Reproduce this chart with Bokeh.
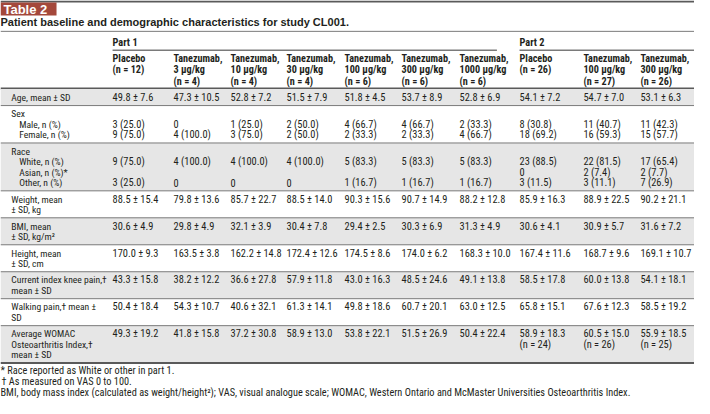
from bokeh.plotting import figure
from bokeh.models import Range1d
from bokeh.core.properties import value
from bokeh.embed import file_html
from bokeh.resources import INLINE

# ---------------- data ----------------
badge = "Table 2"
title = "Patient baseline and demographic characteristics for study CL001."
parts = ["Part 1", "Part 2"]
part_sizes = [7, 3]
headers = [
    ["Placebo", "(n = 12)"],
    ["Tanezumab,", "3 \u00b5g/kg", "(n = 4)"],
    ["Tanezumab,", "10 \u00b5g/kg", "(n = 4)"],
    ["Tanezumab,", "30 \u00b5g/kg", "(n = 4)"],
    ["Tanezumab,", "100 \u00b5g/kg", "(n = 6)"],
    ["Tanezumab,", "300 \u00b5g/kg", "(n = 6)"],
    ["Tanezumab,", "1000 \u00b5g/kg", "(n = 6)"],
    ["Placebo", "(n = 26)"],
    ["Tanezumab,", "100 \u00b5g/kg", "(n = 27)"],
    ["Tanezumab,", "300 \u00b5g/kg", "(n = 26)"],
]
age = ["49.8 \u00b1 7.6", "47.3 \u00b1 10.5", "52.8 \u00b1 7.2", "51.5 \u00b1 7.9", "51.8 \u00b1 4.5",
       "53.7 \u00b1 8.9", "52.8 \u00b1 6.9", "54.1 \u00b1 7.2", "54.7 \u00b1 7.0", "53.1 \u00b1 6.3"]
male = ["3 (25.0)", "0", "1 (25.0)", "2 (50.0)", "4 (66.7)", "4 (66.7)", "2 (33.3)",
        "8 (30.8)", "11 (40.7)", "11 (42.3)"]
female = ["9 (75.0)", "4 (100.0)", "3 (75.0)", "2 (50.0)", "2 (33.3)", "2 (33.3)", "4 (66.7)",
          "18 (69.2)", "16 (59.3)", "15 (57.7)"]
white = ["9 (75.0)", "4 (100.0)", "4 (100.0)", "4 (100.0)", "5 (83.3)", "5 (83.3)", "5 (83.3)",
         "23 (88.5)", "22 (81.5)", "17 (65.4)"]
asian = ["", "", "", "", "", "", "", "0", "2 (7.4)", "2 (7.7)"]
other = ["3 (25.0)", "0", "0", "0", "1 (16.7)", "1 (16.7)", "1 (16.7)",
         "3 (11.5)", "3 (11.1)", "7 (26.9)"]
weight = ["88.5 \u00b1 15.4", "79.8 \u00b1 13.6", "85.7 \u00b1 22.7", "88.5 \u00b1 14.0", "90.3 \u00b1 15.6",
          "90.7 \u00b1 14.9", "88.2 \u00b1 12.8", "85.9 \u00b1 16.3", "88.9 \u00b1 22.5", "90.2 \u00b1 21.1"]
bmi = ["30.6 \u00b1 4.9", "29.8 \u00b1 4.9", "32.1 \u00b1 3.9", "30.4 \u00b1 7.8", "29.4 \u00b1 2.5",
       "30.3 \u00b1 6.9", "31.3 \u00b1 4.9", "30.6 \u00b1 4.1", "30.9 \u00b1 5.7", "31.6 \u00b1 7.2"]
height = ["170.0 \u00b1 9.3", "163.5 \u00b1 3.8", "162.2 \u00b1 14.8", "172.4 \u00b1 12.6", "174.5 \u00b1 8.6",
          "174.0 \u00b1 6.2", "168.3 \u00b1 10.0", "167.4 \u00b1 11.6", "168.7 \u00b1 9.6", "169.1 \u00b1 10.7"]
knee = ["43.3 \u00b1 15.8", "38.2 \u00b1 12.2", "36.6 \u00b1 27.8", "57.9 \u00b1 11.8", "43.0 \u00b1 16.3",
        "48.5 \u00b1 24.6", "49.1 \u00b1 13.8", "58.5 \u00b1 17.8", "60.0 \u00b1 13.8", "54.1 \u00b1 18.1"]
walking = ["50.4 \u00b1 18.4", "54.3 \u00b1 10.7", "40.6 \u00b1 32.1", "61.3 \u00b1 14.1", "49.8 \u00b1 18.6",
           "60.7 \u00b1 20.1", "63.0 \u00b1 12.5", "65.8 \u00b1 15.1", "67.6 \u00b1 12.3", "58.5 \u00b1 19.2"]
womac = ["49.3 \u00b1 19.2", "41.8 \u00b1 15.8", "37.2 \u00b1 30.8", "58.9 \u00b1 13.0", "53.8 \u00b1 22.1",
         "51.5 \u00b1 26.9", "50.4 \u00b1 22.4", "58.9 \u00b1 18.3", "60.5 \u00b1 15.0", "55.9 \u00b1 18.5"]
womac_n = ["", "", "", "", "", "", "", "(n = 24)", "(n = 26)", "(n = 25)"]

rows = [
    (["Age, mean \u00b1 SD"], [age]),
    (["Sex", "Male, n (%)", "Female, n (%)"], [None, male, female]),
    (["Race", "White, n (%)", "Asian, n (%)*", "Other, n (%)"], [None, white, asian, other]),
    (["Weight, mean", "\u00b1 SD, kg"], [weight, None]),
    (["BMI, mean", "\u00b1 SD, kg/m\u00b2"], [bmi, None]),
    (["Height, mean", "\u00b1 SD, cm"], [height, None]),
    (["Current index knee pain,\u2020", "mean \u00b1 SD"], [knee, None]),
    (["Walking pain,\u2020 mean \u00b1", "SD"], [walking, None]),
    (["Average WOMAC", "Osteoarthritis Index,\u2020", "mean \u00b1 SD"], [womac, womac_n, None]),
]
indented = ["Sex", "Race"]
footnotes = [
    "* Race reported as White or other in part 1.",
    "\u2020 As measured on VAS 0 to 100.",
    "BMI, body mass index (calculated as weight/height\u00b2); VAS, visual analogue scale; WOMAC, "
    "Western Ontario and McMaster Universities Osteoarthritis Index.",
]

# ---------------- layout ----------------
XMAX, YMAX = 706, 400
W = XMAX
col_x = [114, 176, 234, 291, 350, 408, 467, 528, 593, 651]
label_x, indent_x = 11, 19
body_top = 89
lh, pad = 10.5, 6.1
NARROW = value("Roboto Condensed")
WIDE = value("Liberation Sans")
INK = "#231f20"
SHADE = "#e6e6e6"
RULE = "#7a7a7a"
THICK = "#5a5a5a"

p = figure(width=694, height=398, x_range=Range1d(0, XMAX), y_range=Range1d(YMAX, 0),
           output_backend="svg", toolbar_location=None, min_border=0)
p.axis.visible = False
p.grid.visible = False
p.outline_line_color = None
p.background_fill_color = "white"
p.border_fill_color = "white"

# top rule, badge, title
p.segment(x0=[0], y0=[1], x1=[W], y1=[1], line_color=THICK, line_width=2)
p.quad(left=[0], right=[57], top=[2], bottom=[15], fill_color="#a4483b", line_color=None)
p.text(x=[3], y=[9], text=[badge], text_font=WIDE, text_font_style="bold",
       text_font_size="13px", text_color="white", text_baseline="middle")
p.text(x=[0], y=[22], text=[title], text_font=WIDE, text_font_style="bold",
       text_font_size="11px", text_color=INK, text_baseline="middle")
p.segment(x0=[0], y0=[31], x1=[W], y1=[31], line_color=RULE, line_width=1)

# part headers
start = 0
part_right = [505, W]
for i, (name, n) in enumerate(zip(parts, part_sizes)):
    x0 = col_x[start]
    p.text(x=[x0], y=[42], text=[name], text_font=NARROW, text_font_style="bold",
           text_font_size="10.3px", text_color=INK, text_baseline="middle")
    p.segment(x0=[x0], y0=[50], x1=[part_right[i]], y1=[50], line_color=RULE, line_width=1.3)
    start += n

hx, hy, ht = [], [], []
for c, lines in enumerate(headers):
    for j, t in enumerate(lines):
        hx.append(col_x[c]); hy.append(58 + 11.8 * j); ht.append(t)
p.text(x=hx, y=hy, text=ht, text_font=NARROW, text_font_style="bold",
       text_font_size="10.2px", text_color=INK, text_baseline="middle")
p.segment(x0=[0], y0=[body_top - 0.5], x1=[W], y1=[body_top - 0.5], line_color=THICK, line_width=2)

# body
y = body_top
sl, sr, st, sb = [], [], [], []
lx, ly, lt = [], [], []
vx, vy, vt = [], [], []
rule_y = []
for r, (labels, vals) in enumerate(rows):
    h = pad + lh * len(labels)
    if r % 2 == 0:
        sl.append(0); sr.append(W); st.append(y); sb.append(y + h)
    for j, lab in enumerate(labels):
        yy = y + pad / 2 + lh * (j + 0.5)
        ind = j > 0 and labels[0] in indented
        lx.append(indent_x if ind else label_x); ly.append(yy); lt.append(lab)
        if vals[j] is not None:
            for c, v in enumerate(vals[j]):
                if v:
                    vx.append(col_x[c]); vy.append(yy); vt.append(v)
    y += h
    rule_y.append(y)

p.quad(left=sl, right=sr, top=st, bottom=sb, fill_color=SHADE, line_color=None)
p.segment(x0=[0] * (len(rule_y) - 1), y0=rule_y[:-1], x1=[W] * (len(rule_y) - 1), y1=rule_y[:-1],
          line_color=RULE, line_width=1)
p.segment(x0=[0], y0=[rule_y[-1]], x1=[W], y1=[rule_y[-1]], line_color=THICK, line_width=2)
p.text(x=lx, y=ly, text=lt, text_font=NARROW, text_font_size="9.6px", text_color=INK,
       text_baseline="middle")
p.text(x=vx, y=vy, text=vt, text_font=NARROW, text_font_size="10.4px", text_color=INK,
       text_baseline="middle")

# footnotes
fy = rule_y[-1] + 7
p.text(x=[0, 1, 0], y=[fy, fy + 11.1, fy + 22.2], text=footnotes, text_font=NARROW,
       text_font_size="10.3px", text_color=INK, text_baseline="middle")

open("out.html", "w").write(file_html(p, INLINE))
